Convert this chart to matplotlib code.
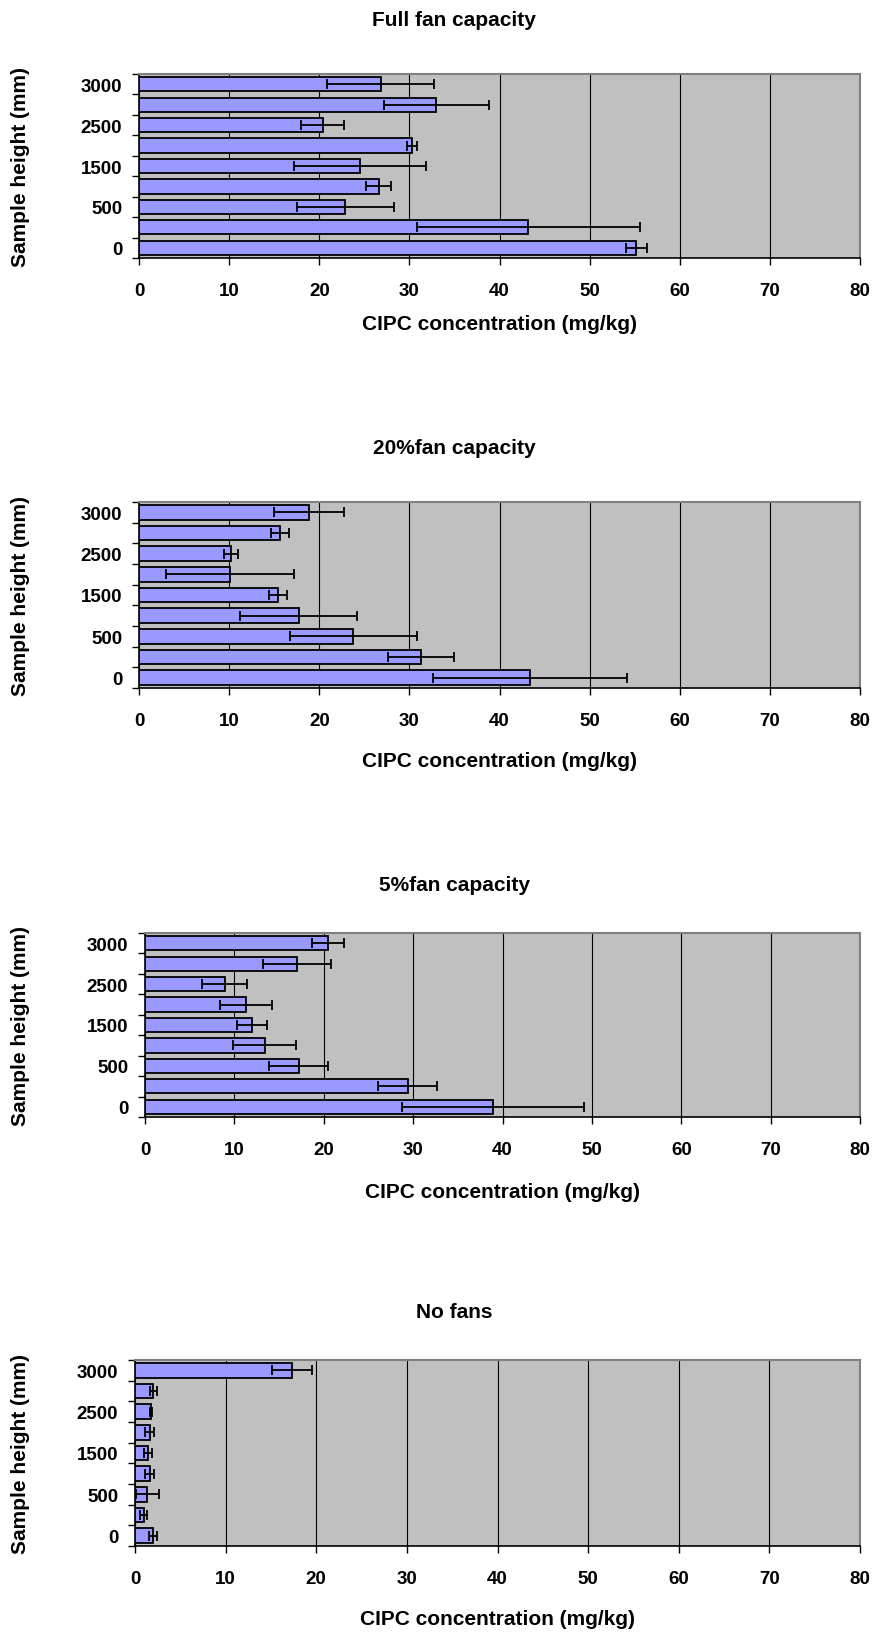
import numpy as np
import matplotlib
matplotlib.use("Agg")
import matplotlib.pyplot as plt

plt.rcParams['font.family'] = ['Liberation Sans', 'DejaVu Sans']
plt.rcParams['font.weight'] = 'bold'

# sample heights, bottom to top (only every other one gets a label)
heights = ["0", "250", "500", "1000", "1500", "2000", "2500", "2750", "3000"]
shown = ["0", "500", "1500", "2500", "3000"]

titles = ["Full fan capacity", "20%fan capacity", "5%fan capacity", "No fans"]

# CIPC concentration (mg/kg), bottom to top
full_mean = [55.2, 43.2, 22.9, 26.6, 24.5, 30.3, 20.4, 33.0, 26.8]
full_err = [1.2, 12.4, 5.4, 1.4, 7.3, 0.6, 2.4, 5.8, 5.9]
p20_mean = [43.4, 31.3, 23.8, 17.7, 15.4, 10.1, 10.2, 15.6, 18.9]
p20_err = [10.8, 3.7, 7.0, 6.5, 1.0, 7.1, 0.8, 1.0, 3.9]
p5_mean = [38.9, 29.4, 17.2, 13.4, 12.0, 11.3, 8.9, 17.0, 20.5]
p5_err = [10.2, 3.3, 3.3, 3.5, 1.7, 2.9, 2.5, 3.8, 1.8]
nofan_mean = [2.0, 0.96, 1.36, 1.6, 1.43, 1.6, 1.8, 2.0, 17.35]
nofan_err = [0.45, 0.4, 1.3, 0.5, 0.45, 0.45, 0.1, 0.4, 2.2]

means = [full_mean, p20_mean, p5_mean, nofan_mean]
errs = [full_err, p20_err, p5_err, nofan_err]

W, H = 872, 1633
# pixel boxes: left, top, bottom, title y, xlabel y
boxes = [(139, 75, 259, 21, 325),
         (139, 503, 689, 449, 762),
         (145, 934, 1118, 886, 1193),
         (135, 1361, 1547, 1313, 1620)]
right = 860

fig = plt.figure(figsize=(W / 100, H / 100), dpi=100)

for i in range(4):
    l, t, b, ty, xy = boxes[i]
    ax = fig.add_axes([l / W, 1 - b / H, (right - l) / W, (b - t) / H])
    ax.set_facecolor("#c0c0c0")
    y = np.arange(len(heights))
    ax.barh(y, means[i], height=0.7, color="#9999ff", edgecolor="black",
            linewidth=1.3, zorder=3)
    ax.errorbar(means[i], y, xerr=errs[i], fmt="none", ecolor="black",
                elinewidth=1.3, capsize=3.6, capthick=1.3, zorder=4)
    ax.set_xlim(0, 80)
    ax.set_ylim(-0.5, len(heights) - 0.5)
    ax.set_xticks(np.arange(0, 81, 10))
    ax.grid(axis="x", color="black", linewidth=0.8, zorder=1)
    ax.set_axisbelow(True)
    # boundary ticks, labels at category centres
    ax.set_yticks(np.arange(-0.5, len(heights), 1.0))
    ax.set_yticklabels([])
    ax.set_yticks(y, minor=True)
    ax.set_yticklabels([h if h in shown else "" for h in heights], minor=True)
    ax.tick_params(axis="y", which="major", length=5, width=1, direction="out")
    ax.tick_params(axis="y", which="minor", length=0, pad=12, labelsize=13.5)
    ax.tick_params(axis="x", length=5, width=1, pad=12, labelsize=13.5)
    for s in ["top", "right"]:
        ax.spines[s].set_color("#808080")
        ax.spines[s].set_linewidth(1.5)
    for s in ["left", "bottom"]:
        ax.spines[s].set_color("black")
        ax.spines[s].set_linewidth(1.2)
    fig.text(454 / W, 1 - ty / H, titles[i], ha="center", va="center",
             fontsize=15, fontweight="bold")
    fig.text((l + right) / 2 / W, 1 - xy / H, "CIPC concentration (mg/kg)",
             ha="center", va="center", fontsize=15, fontweight="bold")
    fig.text(21 / W, 1 - (t + b) / 2 / H, "Sample height (mm)", ha="center",
             va="center", rotation=90, fontsize=15, fontweight="bold")

fig.savefig("out.png", dpi=100)
